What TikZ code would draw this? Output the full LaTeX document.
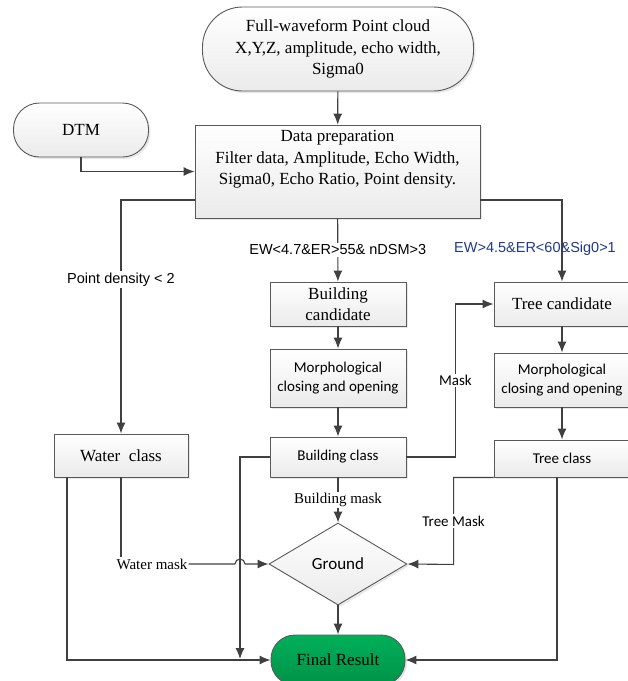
\documentclass[tikz,border=0pt]{standalone}
\usepackage{fontspec}
\setmainfont{Liberation Serif}
\setsansfont{Liberation Sans}
\newfontfamily\corbel{Carlito}
\usetikzlibrary{arrows.meta,positioning,shapes.geometric,shadows}
\definecolor{linegray}{RGB}{64,64,64}
\definecolor{boxgray}{RGB}{89,89,89}
\definecolor{resultgreen}{RGB}{0,166,81}
\definecolor{condblue}{RGB}{31,56,140}
\newcommand{\bigserif}{\fontsize{17}{21.5}\selectfont}
\newcommand{\smallserif}{\fontsize{15}{18}\selectfont}
\newcommand{\corbelfont}{\corbel\fontsize{15}{19}\selectfont}
\newcommand{\arialfont}{\sffamily\fontsize{14.5}{17}\selectfont}

\begin{document}
\begin{tikzpicture}[x=1pt,y=-1pt,
  box/.style={draw=boxgray, line width=0.9pt, top color=white, bottom color=gray!16,
    drop shadow={opacity=0.18, shadow xshift=2pt, shadow yshift=-2pt},
    minimum width=136pt, align=center, inner sep=2pt},
  term/.style={box},
  decision/.style={box, diamond, minimum width=138pt, minimum height=82pt, inner sep=0pt},
  arr/.style={draw=linegray, line width=1.1pt, -{Latex[length=11pt,width=9pt]}},
  line/.style={draw=linegray, line width=1.1pt},
  lbl/.style={fill=white, inner sep=1.5pt}]
\useasboundingbox (0,0) rectangle (628,681);

% input and preparation
\node[term, minimum width=271pt, minimum height=84pt, rounded corners=40pt, font=\bigserif] (cloud) at (338,49)
  {Full-waveform Point cloud\\X,Y,Z, amplitude, echo width,\\Sigma0};
\node[term, minimum width=135pt, minimum height=54pt, rounded corners=26pt, font=\bigserif] (dtm) at (81,130) {DTM};
\node[box, minimum width=285pt, minimum height=93pt, font=\bigserif] (prep) at (337.5,171.5)
  {Data preparation\\Filter data, Amplitude, Echo Width,\\Sigma0, Echo Ratio, Point density.\\[6pt]\mbox{}};

% building and tree branches
\node[box, minimum height=44pt, font=\bigserif] (bcand) at (338,304) {Building\\candidate};
\node[box, minimum height=58pt, font=\corbelfont] (bmorph) at (338,378) {Morphological\\closing and opening};
\node[box, minimum height=40pt, font=\corbelfont] (bclass) at (338,457) {Building class};
\node[box, minimum height=44pt, font=\bigserif] (tcand) at (562,304) {Tree candidate};
\node[box, minimum height=54pt, font=\corbelfont] (tmorph) at (562,380) {Morphological\\closing and opening};
\node[box, minimum height=37pt, font=\corbelfont] (tclass) at (562,458.5) {Tree class};
\node[box, minimum width=134pt, minimum height=43pt, font=\bigserif] (water) at (121,455.5) {Water\ \ class};

% ground and result
\node[decision, font=\corbel\fontsize{17}{20}\selectfont] (ground) at (338,564) {Ground};
\node[term, minimum width=134pt, minimum height=50pt, rounded corners=24pt, font=\bigserif,
  top color={rgb,255:red,0;green,176;blue,90}, bottom color=resultgreen!88!black] (final) at (338,660) {Final Result};
\node[font=\smallserif, inner sep=1pt] (wmask) at (152,564) {Water mask};

\draw[arr] (cloud) -- (prep);
\draw[arr] (dtm.south) |- (prep.west);
\draw[arr] ([yshift=-28.5pt]prep.west) -| node[lbl, pos=0.67, font=\arialfont] (pdens) {Point density < 2} (water.north);
\draw[arr] ([yshift=-28.5pt]prep.east) -| node[pos=0.8, xshift=-27pt, inner sep=0pt, text=condblue, font=\arialfont] (tcond) {EW>4.5\&ER<60\&Sig0>1} (tcand.north);
\draw[arr] (prep) -- node[lbl, font=\arialfont] (bcond) {EW<4.7\&ER>55\& nDSM>3} (bcand);

\draw[arr] (bcand) -- (bmorph);
\draw[arr] (bmorph) -- (bclass);
\draw[arr] (tcand) -- (tmorph);
\draw[arr] (tmorph) -- (tclass);
\draw[arr] (bclass.east) -- ++(49,0) -- node[lbl, font=\corbelfont] (mask) {Mask} ++(0,-153) -- (tcand.west);

\coordinate (bdrop) at (240,659);
\draw[arr] (bclass.west) -| (bdrop);
\draw[arr] (bclass) -- node[lbl, font=\smallserif] (bmask) {Building mask} (ground);
\draw[arr] ([xshift=-54pt]water.south) |- (final.west);
\draw[line] (water.south) -- (water.south |- wmask.north);
\draw[arr] (wmask.east) -- ([xshift=-5pt]bdrop |- ground.west) arc[start angle=180, end angle=0, radius=5pt] -- (ground.west);
\draw[arr] (tclass.south west) -- ++(-40,0) -- node[lbl, font=\corbelfont] (tmask) {Tree Mask} ++(0,87) -- (ground.east);
\draw[arr] ([xshift=-5pt]tclass.south) |- (final.east);
\draw[arr] (ground) -- (final);
\end{tikzpicture}
\end{document}
